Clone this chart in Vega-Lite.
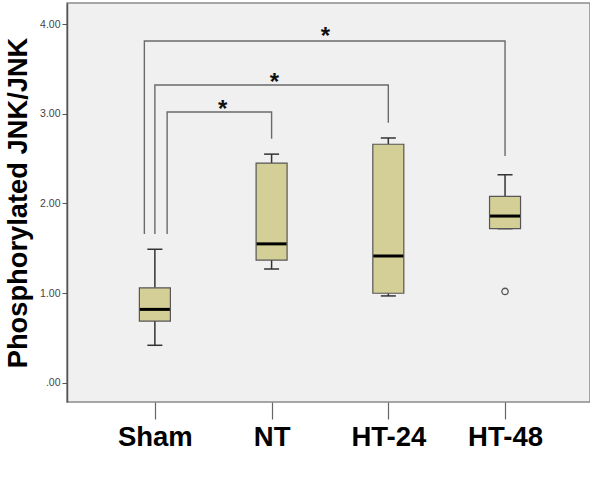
{
  "$schema": "https://vega.github.io/schema/vega-lite/v6.json",
  "width": 523,
  "height": 399,
  "autosize": {"type": "none"},
  "padding": {"left": 67, "top": 3, "right": 0, "bottom": 92},
  "background": "#ffffff",
  "config": {
    "view": {"fill": "#f0f0f0", "stroke": "#8a8a8a", "strokeWidth": 1.5},
    "font": "Liberation Sans"
  },
  "datasets": {
    "boxes": [
      {"group": "Sham", "pos": 1, "lower": 0.42, "q1": 0.69, "median": 0.82, "q3": 1.06, "upper": 1.49},
      {"group": "NT", "pos": 2, "lower": 1.27, "q1": 1.37, "median": 1.55, "q3": 2.45, "upper": 2.55},
      {"group": "HT-24", "pos": 3, "lower": 0.97, "q1": 1.0, "median": 1.415, "q3": 2.66, "upper": 2.73},
      {"group": "HT-48", "pos": 4, "lower": 1.72, "q1": 1.72, "median": 1.86, "q3": 2.08, "upper": 2.32}
    ],
    "outliers": [
      {"group": "HT-48", "pos": 4, "value": 1.02}
    ],
    "brackets": [
      {"pair": "Sham-NT", "seq": 1, "x": 1.105, "y": 1.66},
      {"pair": "Sham-NT", "seq": 2, "x": 1.105, "y": 3.02},
      {"pair": "Sham-NT", "seq": 3, "x": 2, "y": 3.02},
      {"pair": "Sham-NT", "seq": 4, "x": 2, "y": 2.72},
      {"pair": "Sham-HT-24", "seq": 1, "x": 1.0, "y": 1.66},
      {"pair": "Sham-HT-24", "seq": 2, "x": 1.0, "y": 3.32},
      {"pair": "Sham-HT-24", "seq": 3, "x": 3, "y": 3.32},
      {"pair": "Sham-HT-24", "seq": 4, "x": 3, "y": 2.9},
      {"pair": "Sham-HT-48", "seq": 1, "x": 0.91, "y": 1.66},
      {"pair": "Sham-HT-48", "seq": 2, "x": 0.91, "y": 3.81},
      {"pair": "Sham-HT-48", "seq": 3, "x": 4, "y": 3.81},
      {"pair": "Sham-HT-48", "seq": 4, "x": 4, "y": 2.53}
    ],
    "stars": [
      {"pair": "Sham-NT", "x": 1.58, "y": 2.96, "label": "*"},
      {"pair": "Sham-HT-24", "x": 2.025, "y": 3.27, "label": "*"},
      {"pair": "Sham-HT-48", "x": 2.462, "y": 3.78, "label": "*"}
    ]
  },
  "encoding": {
    "x": {
      "type": "quantitative",
      "scale": {"domain": [0.29, 4.685], "nice": false, "zero": false},
      "axis": {
        "title": null,
        "values": [1, 2, 3, 4],
        "labelExpr": "['','Sham','NT','HT-24','HT-48'][datum.value]",
        "grid": false,
        "domain": false,
        "tickSize": 17,
        "tickColor": "#666666",
        "tickWidth": 1.2,
        "labelFont": "Liberation Sans",
        "labelFontWeight": "bold",
        "labelFontSize": 27.5,
        "labelColor": "#000000",
        "labelPadding": 4
      }
    }
  },
  "layer": [
    {
      "data": {"name": "brackets"},
      "mark": {"type": "line", "color": "#6a6a6a", "strokeWidth": 1.4},
      "encoding": {
        "x": {"field": "x"},
        "y": {
          "field": "y",
          "type": "quantitative",
          "scale": {"domain": [-0.212, 4.234], "nice": false, "zero": false},
          "axis": {
            "title": "Phosphorylated JNK/JNK",
            "titleFont": "Liberation Sans",
            "titleFontSize": 27.3,
            "titleFontWeight": "bold",
            "titleColor": "#000000",
            "titlePadding": 7,
            "values": [0, 1, 2, 3, 4],
            "labelExpr": "datum.value == 0 ? '.00' : format(datum.value, '.2f')",
            "grid": false,
            "domainColor": "#555555",
            "domainWidth": 1.5,
            "tickSize": 5,
            "tickColor": "#555555",
            "labelFont": "Liberation Sans",
            "labelFontSize": 10.5,
            "labelColor": "#444444",
            "labelPadding": 2
          }
        },
        "detail": {"field": "pair"},
        "order": {"field": "seq", "type": "quantitative"}
      }
    },
    {
      "data": {"name": "stars"},
      "mark": {"type": "text", "fontSize": 24, "fontWeight": "bold", "font": "Liberation Sans", "baseline": "alphabetic", "align": "center", "color": "#111111"},
      "encoding": {
        "x": {"field": "x"},
        "y": {"field": "y", "type": "quantitative"},
        "text": {"field": "label"}
      }
    },
    {
      "data": {"name": "boxes"},
      "mark": {"type": "rule", "color": "#333333", "strokeWidth": 1.5},
      "encoding": {
        "x": {"field": "pos"},
        "y": {"field": "q3", "type": "quantitative"},
        "y2": {"field": "upper"}
      }
    },
    {
      "data": {"name": "boxes"},
      "mark": {"type": "rule", "color": "#333333", "strokeWidth": 1.5},
      "encoding": {
        "x": {"field": "pos"},
        "y": {"field": "lower", "type": "quantitative"},
        "y2": {"field": "q1"}
      }
    },
    {
      "data": {"name": "boxes"},
      "mark": {"type": "tick", "orient": "horizontal", "size": 15, "thickness": 1.5, "color": "#333333", "opacity": 1},
      "encoding": {
        "x": {"field": "pos"},
        "y": {"field": "upper", "type": "quantitative"}
      }
    },
    {
      "data": {"name": "boxes"},
      "mark": {"type": "tick", "orient": "horizontal", "size": 15, "thickness": 1.5, "color": "#333333", "opacity": 1},
      "encoding": {
        "x": {"field": "pos"},
        "y": {"field": "lower", "type": "quantitative"}
      }
    },
    {
      "data": {"name": "boxes"},
      "mark": {"type": "bar", "orient": "vertical", "width": 31, "fill": "#d4cf96", "stroke": "#555555", "strokeWidth": 1.2},
      "encoding": {
        "x": {"field": "pos"},
        "y": {"field": "q1", "type": "quantitative"},
        "y2": {"field": "q3"}
      }
    },
    {
      "data": {"name": "boxes"},
      "mark": {"type": "tick", "orient": "horizontal", "size": 30, "thickness": 3, "color": "#000000", "opacity": 1},
      "encoding": {
        "x": {"field": "pos"},
        "y": {"field": "median", "type": "quantitative"}
      }
    },
    {
      "data": {"name": "outliers"},
      "mark": {"type": "point", "shape": "circle", "size": 40, "filled": false, "stroke": "#555555", "strokeWidth": 1.3, "opacity": 1},
      "encoding": {
        "x": {"field": "pos"},
        "y": {"field": "value", "type": "quantitative"}
      }
    }
  ]
}
